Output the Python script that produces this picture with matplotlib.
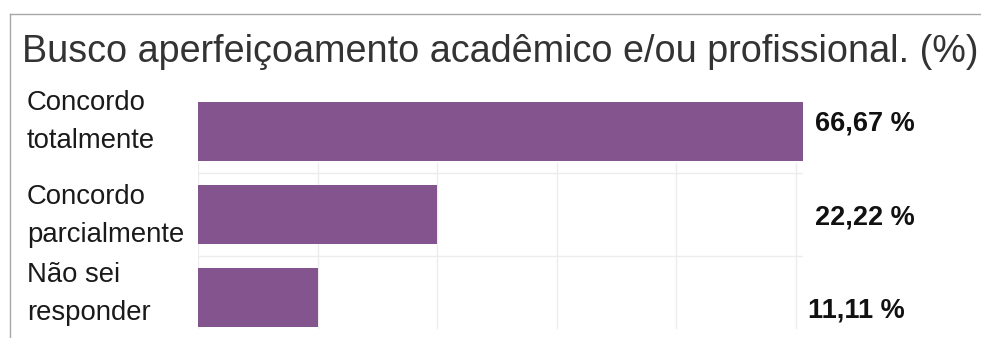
import matplotlib
matplotlib.use("Agg")
import matplotlib.pyplot as plt
from matplotlib.lines import Line2D
import matplotlib.transforms as mtransforms

plt.rcParams['font.family'] = ['Liberation Sans', 'DejaVu Sans']

# Data
title = "Busco aperfeiçoamento acadêmico e/ou profissional. (%)"
categories = ["Concordo\ntotalmente", "Concordo\nparcialmente", "Não sei\nresponder"]
values = [66.67, 22.22, 11.11]
value_labels = ["66,67 %", "22,22 %", "11,11 %"]

# Layout constants
W, H = 981, 338
DPI = 100
BAR_COLOR = "#84548f"
GRID_COLOR = "#ececec"
X_MAX = 56.2
GRID_STEP = 100 / 9
label_x = [1.0198, 1.0198, 1.0083]      # value-label left edge (axes fraction)
label_dy = [-0.018, 0.126, 0.235]       # value-label baseline offsets (rows)
cat_dy = [0.199, 0.331, 0.271]          # category-label last-baseline offsets (rows)

fig = plt.figure(figsize=(W / DPI, H / DPI), dpi=DPI)
fig.patch.set_facecolor("white")

def px(x0, y0, x1, y1):
    return [x0 / W, 1 - y1 / H, (x1 - x0) / W, (y1 - y0) / H]

ax = fig.add_axes(px(198, 90, 803, 339))
ax.set_xlim(0, X_MAX)
ax.set_ylim(len(categories) - 0.5, -0.5)
for s in ax.spines.values():
    s.set_visible(False)
ax.set_xticks([])
ax.set_yticks([])

ypos = list(range(len(categories)))

# grid
n_grid = int(X_MAX // GRID_STEP) + 1
for k in range(n_grid):
    ax.plot([k * GRID_STEP] * 2, [0.38, 2.37], color=GRID_COLOR, lw=1, zorder=0)
for b in [0.5, 1.5]:
    ax.plot([0, (n_grid - 1) * GRID_STEP + 0.6], [b, b], color=GRID_COLOR, lw=1, zorder=0)

ax.barh(ypos, values, height=0.71, color=BAR_COLOR, zorder=2)

# value labels to the right of the plot area
trans = mtransforms.blended_transform_factory(ax.transAxes, ax.transData)
for i, lab in enumerate(value_labels):
    ax.text(label_x[i], ypos[i] + label_dy[i], lab, transform=trans,
            ha="left", va="baseline", fontsize=19.5, fontweight="bold",
            color="#111111", clip_on=False)

# category labels on the left
fig_tr = mtransforms.blended_transform_factory(fig.transFigure, ax.transData)
for i, cat in enumerate(categories):
    ax.text(27 / W, ypos[i] + cat_dy[i], cat, transform=fig_tr,
            ha="left", va="baseline", fontsize=19.8, color="#1a1a1a",
            linespacing=1.58, clip_on=False)

# title
fig.text(22 / W, 1 - 62 / H, title, ha="left", va="baseline",
         fontsize=27.2, color="#333333")

# frame lines
fig.add_artist(Line2D([10 / W, 1], [1 - 14 / H, 1 - 14 / H], color="#a8a8a8", lw=1,
                      transform=fig.transFigure))
fig.add_artist(Line2D([10 / W, 10 / W], [1 - 14 / H, 0], color="#a8a8a8", lw=1,
                      transform=fig.transFigure))

fig.savefig("out.png", dpi=DPI)
